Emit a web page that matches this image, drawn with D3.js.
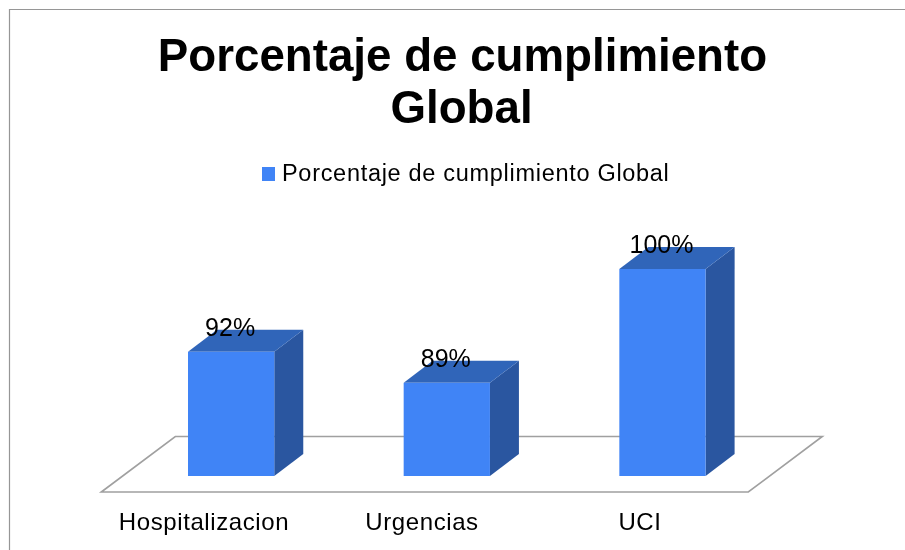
<!DOCTYPE html>
<html>
<head>
<meta charset="utf-8">
<script src="https://cdn.jsdelivr.net/npm/d3@7"></script>
<style>
  html, body { margin: 0; padding: 0; background: #fff; overflow: hidden; }
  svg { filter: blur(0.45px); display: block; }
  text { font-family: "Liberation Sans", Arial, sans-serif; fill: #000; }
</style>
</head>
<body>
<script>
//DATA
const categories = ["Hospitalizacion", "Urgencias", "UCI"];
const values = [92, 89, 100];
const valueLabels = ["92%", "89%", "100%"];
const titleLines = ["Porcentaje de cumplimiento", "Global"];
const seriesName = "Porcentaje de cumplimiento Global";

//USEFUL VARIABLES
const svgwidth = 905;
const svgheight = 550;
const depth = { x: 29, y: 22 };   // 3d offset of the bars
const floorBack = 436.5;
const floorFront = 492;

const front = "#4084f6";
const topColor = "#3065b9";
const sideColor = "#2a56a0";
const lineColor = "#a0a0a0";

const svg = d3.select("body").append("svg")
  .attr("width", svgwidth)
  .attr("height", svgheight);

//FRAME, open towards right and bottom like the cropped original
svg.append("path")
  .attr("d", `M9.5,${svgheight} V9.5 H${svgwidth}`)
  .attr("fill", "none")
  .attr("stroke", "#969696")
  .attr("stroke-width", 1.2);

//TITLE
svg.append("g").selectAll("text")
  .data(titleLines)
  .join("text")
  .attr("x", (d, i) => i === 0 ? 462.5 : 461.5)
  .attr("y", (d, i) => 71 + i * 52)
  .attr("text-anchor", "middle")
  .attr("font-size", 45.7)
  .attr("font-weight", "bold")
  .text(d => d);

//LEGEND
svg.append("rect")
  .attr("x", 262).attr("y", 167)
  .attr("width", 13).attr("height", 14)
  .attr("fill", front);
svg.append("text")
  .attr("x", 282).attr("y", 181)
  .attr("font-size", 23.5)
  .attr("letter-spacing", 0.7)
  .text(seriesName);

//SCALES
const X = d3.scaleBand()
  .domain(categories)
  .range([123.3, 770.3])
  .paddingInner(0.6)
  .paddingOuter(0.3);

const Y = d3.scaleLinear()
  .domain([80, 100])
  .range([476, 269]);

// category labels sit on the front edge of the floor, a bit wider apart than the bars
const labelX = d3.scalePoint()
  .domain(categories)
  .range([204, 640]);

//FLOOR
const [x0, x1] = X.range();
const floorInset = 22;
svg.append("path")
  .attr("d", d3.line()([
    [x0 - floorInset, floorFront],
    [x0 - floorInset + 74, floorBack],
    [x1 + floorInset + 30, floorBack],
    [x1 + floorInset - 44, floorFront]
  ]) + "Z")
  .attr("fill", "none")
  .attr("stroke", lineColor)
  .attr("stroke-width", 1.6);

//BARS
const bars = svg.append("g").selectAll("g")
  .data(categories.map((c, i) => ({ c, v: values[i], label: valueLabels[i] })))
  .join("g");

bars.append("path")
  .attr("fill", sideColor)
  .attr("d", d => {
    const r = X(d.c) + X.bandwidth();
    return `M${r},${Y(d.v)} l${depth.x},${-depth.y} V${Y.range()[0] - depth.y} L${r},${Y.range()[0]} Z`;
  });

bars.append("path")
  .attr("fill", topColor)
  .attr("d", d => {
    const l = X(d.c);
    return `M${l},${Y(d.v)} l${depth.x},${-depth.y} h${X.bandwidth()} l${-depth.x},${depth.y} Z`;
  });

bars.append("rect")
  .attr("x", d => X(d.c))
  .attr("y", d => Y(d.v))
  .attr("width", X.bandwidth())
  .attr("height", d => Y.range()[0] - Y(d.v))
  .attr("fill", front);

//DATA LABELS
bars.append("text")
  .attr("x", d => X(d.c) + X.bandwidth() / 2 - 1)
  .attr("y", d => Y(d.v) - 16)
  .attr("text-anchor", "middle")
  .attr("font-size", 25)
  .text(d => d.label);

//CATEGORY LABELS
svg.append("g").selectAll("text")
  .data(categories)
  .join("text")
  .attr("x", d => labelX(d))
  .attr("y", 530)
  .attr("text-anchor", "middle")
  .attr("font-size", 24)
  .attr("letter-spacing", 0.6)
  .text(d => d);
</script>
</body>
</html>
